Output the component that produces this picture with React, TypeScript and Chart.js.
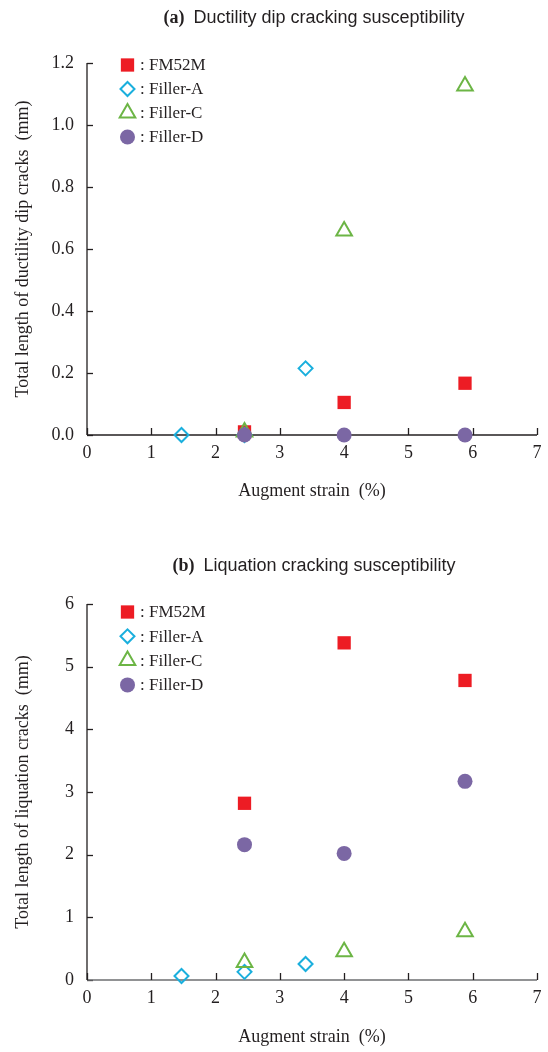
import React, { useEffect, useRef } from "react";
import { Chart, registerables } from "chart.js";
import { drawPoint } from "chart.js/helpers";

Chart.register(...registerables);

// ---- data ----
const seriesNames = ["FM52M", "Filler-A", "Filler-C", "Filler-D"];

// augment strain (%) at which each filler was tested
const strainFM52M = [2.45, 4.0, 5.88];
const strainFillerA = [1.47, 2.45, 3.4];
const strainFillerC = [2.45, 4.0, 5.88];
const strainFillerD = [2.45, 4.0, 5.88];

// (a) total length of ductility dip cracks (mm)
const ddcFM52M = [0.01, 0.105, 0.167];
const ddcFillerA = [0.0, 0.0, 0.215];
const ddcFillerC = [0.01, 0.658, 1.126];
const ddcFillerD = [0.0, 0.0, 0.0];

// (b) total length of liquation cracks (mm)
const liqFM52M = [2.82, 5.38, 4.78];
const liqFillerA = [0.064, 0.13, 0.255];
const liqFillerC = [0.28, 0.45, 0.77];
const liqFillerD = [2.16, 2.02, 3.17];

const xTicks = [0, 1, 2, 3, 4, 5, 6, 7];
const ddcTicks = [0, 0.2, 0.4, 0.6, 0.8, 1.0, 1.2];
const liqTicks = [0, 1, 2, 3, 4, 5, 6];

// ---- styling ----
const SERIF = "'Liberation Serif', 'Times New Roman', serif";
const SANS = "'Liberation Sans', Arial, sans-serif";

const markerStyles = [
  { pointStyle: "rect", radius: 9.4, fill: "#ED1C24", stroke: "#ED1C24", borderWidth: 0 },
  { pointStyle: "rectRot", radius: 7, fill: "rgba(0,0,0,0)", stroke: "#1AAFDD", borderWidth: 2 },
  { pointStyle: "triangle", radius: 9, fill: "rgba(0,0,0,0)", stroke: "#6CB545", borderWidth: 2 },
  { pointStyle: "circle", radius: 7.5, fill: "#7B67A4", stroke: "#7B67A4", borderWidth: 0 },
];

const zip = (xs: number[], ys: number[]) => xs.map((x, i) => ({ x, y: ys[i] }));

// Axis lines, inward tick marks, title, axis titles and the marker key
const decorPlugin = {
  id: "decor",
  beforeDatasetsDraw(chart: any, _args: any, opts: any) {
    const { ctx, chartArea } = chart;
    const xs = chart.scales.x;
    const ys = chart.scales.y;
    ctx.save();
    ctx.lineWidth = 1.3;
    // y axis
    ctx.strokeStyle = opts.yAxisColor;
    ctx.beginPath();
    ctx.moveTo(chartArea.left, chartArea.bottom);
    ctx.lineTo(chartArea.left, chartArea.top);
    ctx.stroke();
    opts.yTicks.forEach((v: number) => {
      const py = Math.round(ys.getPixelForValue(v)) + 0.5;
      ctx.beginPath();
      ctx.moveTo(chartArea.left, py);
      ctx.lineTo(chartArea.left + 6, py);
      ctx.stroke();
    });
    // x axis
    ctx.strokeStyle = opts.xAxisColor;
    ctx.beginPath();
    ctx.moveTo(chartArea.left, chartArea.bottom);
    ctx.lineTo(chartArea.right, chartArea.bottom);
    ctx.stroke();
    ctx.strokeStyle = opts.xTickColor;
    xTicks.forEach((v: number) => {
      const px = Math.round(xs.getPixelForValue(v)) + 0.5;
      ctx.beginPath();
      ctx.moveTo(px, chartArea.bottom);
      ctx.lineTo(px, chartArea.bottom - 7);
      ctx.stroke();
    });
    ctx.restore();
  },
  afterDraw(chart: any, _args: any, opts: any) {
    const { ctx, chartArea } = chart;
    const cx = (chartArea.left + chartArea.right) / 2;
    const cy = (chartArea.top + chartArea.bottom) / 2;
    ctx.save();
    ctx.fillStyle = "#231F20";
    ctx.textBaseline = "middle";

    // title: bold serif panel letter + sans text
    const boldFont = `bold 18px ${SERIF}`;
    const sansFont = `18px ${SANS}`;
    ctx.font = boldFont;
    const w1 = ctx.measureText(opts.panel + "  ").width;
    ctx.font = sansFont;
    const w2 = ctx.measureText(opts.title).width;
    const startX = cx + 2 - (w1 + w2) / 2;
    ctx.textAlign = "left";
    ctx.font = boldFont;
    ctx.fillText(opts.panel, startX, opts.titleY);
    ctx.font = sansFont;
    ctx.fillText(opts.title, startX + w1, opts.titleY);

    // x axis title
    ctx.font = `18px ${SERIF}`;
    ctx.textAlign = "center";
    ctx.fillText("Augment strain  (%)", cx, opts.xTitleY);

    // y axis title
    ctx.save();
    ctx.translate(opts.yTitleX, cy);
    ctx.rotate(-Math.PI / 2);
    ctx.fillText(opts.yTitle, 0, 0);
    ctx.restore();

    // marker key
    ctx.font = `17px ${SERIF}`;
    ctx.textAlign = "left";
    seriesNames.forEach((name, i) => {
      const s = markerStyles[i];
      const y = chartArea.top + opts.keyTop + i * opts.keyStep;
      ctx.fillStyle = s.fill;
      ctx.strokeStyle = s.stroke;
      ctx.lineWidth = s.borderWidth;
      drawPoint(
        ctx,
        { pointStyle: s.pointStyle as any, radius: s.radius, rotation: 0, borderWidth: s.borderWidth },
        127.5,
        y
      );
      ctx.fillStyle = "#231F20";
      ctx.fillText(": " + name, 140, y + 1);
    });
    ctx.restore();
  },
};

type PanelProps = {
  panel: string;
  title: string;
  yTitle: string;
  values: number[][];
  yMax: number;
  yStep: number;
  yTickList: number[];
  decimals: number;
  areaTop: number;
  areaBottom: number;
  height: number;
  titleY: number;
  xTitleY: number;
  keyTop: number;
  keyStep: number;
  xAxisColor: string;
  xTickColor: string;
  yAxisColor: string;
};

function Panel(p: PanelProps) {
  const ref = useRef<HTMLCanvasElement>(null);
  useEffect(() => {
    const canvas = ref.current;
    if (!canvas) return;
    const strains = [strainFM52M, strainFillerA, strainFillerC, strainFillerD];
    const datasets = seriesNames.map((name, i) => {
      const s = markerStyles[i];
      return {
        label: name,
        data: zip(strains[i], p.values[i]),
        pointStyle: s.pointStyle as any,
        pointRadius: s.radius,
        pointBackgroundColor: s.fill,
        pointBorderColor: s.stroke,
        pointBorderWidth: s.borderWidth,
        showLine: false,
        clip: false as any,
        order: 4 - i,
      };
    });
    const chart = new Chart(canvas, {
      type: "scatter",
      data: { datasets },
      plugins: [decorPlugin],
      options: {
        animation: false,
        responsive: false,
        events: [],
        layout: { padding: { top: p.areaTop, right: 11, left: 0, bottom: 0 } },
        plugins: {
          legend: { display: false },
          tooltip: { enabled: false },
          decor: {
            panel: p.panel,
            title: p.title,
            yTitle: p.yTitle,
            yTicks: p.yTickList,
            titleY: p.titleY,
            xTitleY: p.xTitleY,
            yTitleX: 23,
            keyTop: p.keyTop,
            keyStep: p.keyStep,
            xAxisColor: p.xAxisColor,
            xTickColor: p.xTickColor,
            yAxisColor: p.yAxisColor,
          },
        } as any,
        scales: {
          x: {
            type: "linear",
            min: 0,
            max: 7,
            grid: { display: false },
            border: { display: false },
            ticks: {
              stepSize: 1,
              padding: -1,
              color: "#231F20",
              font: { family: SERIF, size: 18 },
            },
            afterFit: (scale: any) => {
              scale.height = p.height - p.areaBottom;
            },
          },
          y: {
            type: "linear",
            min: 0,
            max: p.yMax,
            grid: { display: false },
            border: { display: false },
            ticks: {
              stepSize: p.yStep,
              padding: 5,
              color: "#231F20",
              font: { family: SERIF, size: 18 },
              callback: (v: any) => Number(v).toFixed(p.decimals),
            },
            afterFit: (scale: any) => {
              scale.width = 87;
            },
          },
        },
      },
    });
    return () => chart.destroy();
  }, []);
  return <canvas ref={ref} width={548} height={p.height} style={{ display: "block" }} />;
}

export default function App() {
  return (
    <div style={{ position: "fixed", left: 0, top: 0, width: 548, height: 1052, background: "#fff" }}>
      <Panel
        panel="(a)"
        title="Ductility dip cracking susceptibility"
        yTitle="Total length of ductility dip cracks  (mm)"
        values={[ddcFM52M, ddcFillerA, ddcFillerC, ddcFillerD]}
        yMax={1.2}
        yStep={0.2}
        yTickList={ddcTicks}
        decimals={1}
        areaTop={63}
        areaBottom={435}
        height={526}
        titleY={18}
        xTitleY={491}
        keyTop={2}
        keyStep={24}
        xAxisColor="#231F20"
        xTickColor="#231F20"
        yAxisColor="#231F20"
      />
      <Panel
        panel="(b)"
        title="Liquation cracking susceptibility"
        yTitle="Total length of liquation cracks  (mm)"
        values={[liqFM52M, liqFillerA, liqFillerC, liqFillerD]}
        yMax={6}
        yStep={1}
        yTickList={liqTicks}
        decimals={0}
        areaTop={78}
        areaBottom={454}
        height={526}
        titleY={40}
        xTitleY={511}
        keyTop={8}
        keyStep={24.3}
        xAxisColor="#6D6E71"
        xTickColor="#231F20"
        yAxisColor="#231F20"
      />
    </div>
  );
}
